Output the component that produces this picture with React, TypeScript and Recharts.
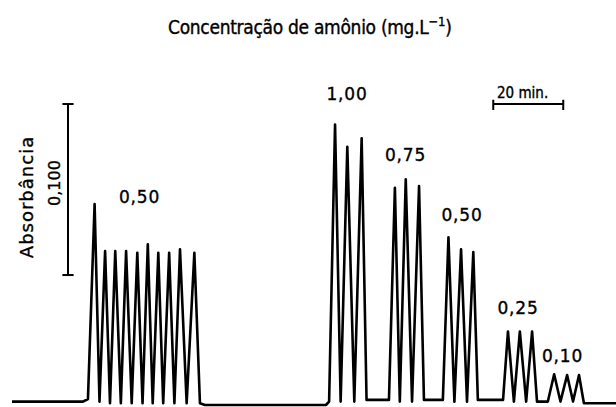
import { LineChart, Line, XAxis, YAxis, ReferenceLine } from 'recharts';

const linhaBaseInicial = [[0, 0.002], [20.3, 0.002], [21.7, 0.0035]];
const picos050a = [
  [23.6, 0.1175], [25.0, 0.002], [26.6, 0.090], [28.0, 0.001], [29.5, 0.090], [31.1, 0.001],
  [32.6, 0.090], [34.2, 0.001], [35.8, 0.089], [37.3, 0.001], [38.8, 0.094], [40.2, 0.001],
  [41.8, 0.089], [43.2, 0.001], [44.9, 0.089], [46.4, 0.001], [48.0, 0.091], [49.9, 0.001],
  [52.1, 0.089], [53.7, 0.001],
];
const linhaBaseMeio = [[55.1, 0], [89.7, 0], [90.6, 0.002]];
const picos100 = [[92.3, 0.164], [93.9, 0.002], [95.8, 0.151], [97.8, 0.002], [99.9, 0.156], [101.3, 0.003], [107.7, 0.003]];
const picos075 = [[109.4, 0.127], [110.8, 0.002], [112.5, 0.132], [114.3, 0.002], [116.3, 0.128], [117.7, 0.003], [123.1, 0.003]];
const picos050b = [[124.7, 0.098], [126.4, 0.002], [128.3, 0.091], [130.0, 0.002], [131.8, 0.0895], [133.1, 0.003], [140.3, 0.003]];
const picos025 = [[141.7, 0.043], [143.4, 0.002], [145.1, 0.043], [146.9, 0.002], [148.6, 0.043], [150.0, 0.002], [153.1, 0.002]];
const picos010 = [[154.9, 0.018], [156.7, 0.002], [158.6, 0.0175], [160.3, 0.002], [162.0, 0.0175], [163.4, 0.001], [172.6, 0.001]];

const rotulos = ['0,50', '1,00', '0,75', '0,50', '0,25', '0,10'];

// barras de escala
const escalaAbs = 0.1;
const escalaTempo = 20;

const data = [
  ...linhaBaseInicial, ...picos050a, ...linhaBaseMeio, ...picos100,
  ...picos075, ...picos050b, ...picos025, ...picos010,
].map(([t, a]) => ({ t, a }));

const font = '"DejaVu Sans", sans-serif';
const fontCond = '"DejaVu Sans Condensed", "DejaVu Sans", sans-serif';
const labelPos = [
  [139.5, 203], [347, 100], [405.5, 161], [462, 221], [518, 314], [562.5, 362],
];

const barT = 16;
const barA0 = 0.076;
const tempoT0 = 137.5;
const tempoA = 0.176;

const ink = { fill: '#000', stroke: '#000', strokeWidth: 0.35 };

export default function App() {
  return (
    <div style={{ position: 'absolute', left: 0, top: 0, width: 616, height: 407, background: '#fff' }}>
      <LineChart width={616} height={407} data={data} margin={{ top: 0, right: 0, bottom: 0, left: 12 }}>
        <XAxis dataKey="t" type="number" domain={[0, 172.571]} hide allowDataOverflow />
        <YAxis type="number" domain={[-0.00117, 0.23684]} hide allowDataOverflow />
        <Line
          type="linear"
          dataKey="a"
          stroke="#000"
          strokeWidth={2.6}
          strokeLinejoin="round"
          dot={false}
          isAnimationActive={false}
        />
        {/* escala de absorbância */}
        <ReferenceLine segment={[{ x: barT, y: barA0 }, { x: barT, y: barA0 + escalaAbs }]} stroke="#000" strokeWidth={2} />
        <ReferenceLine segment={[{ x: barT - 1.6, y: barA0 }, { x: barT + 1.6, y: barA0 }]} stroke="#000" strokeWidth={2} />
        <ReferenceLine segment={[{ x: barT - 1.6, y: barA0 + escalaAbs }, { x: barT + 1.6, y: barA0 + escalaAbs }]} stroke="#000" strokeWidth={2} />
        {/* escala de tempo */}
        <ReferenceLine segment={[{ x: tempoT0, y: tempoA }, { x: tempoT0 + escalaTempo, y: tempoA }]} stroke="#000" strokeWidth={2} />
        <ReferenceLine segment={[{ x: tempoT0, y: 0.1725 }, { x: tempoT0, y: 0.1785 }]} stroke="#000" strokeWidth={2} />
        <ReferenceLine segment={[{ x: tempoT0 + escalaTempo, y: 0.1725 }, { x: tempoT0 + escalaTempo, y: 0.1785 }]} stroke="#000" strokeWidth={2} />

        <text x={168} y={34} fontFamily={fontCond} fontSize={19} letterSpacing={-0.3} {...ink}>
          Concentração de amônio (mg.L<tspan dy={-8} fontSize={13}>−1</tspan><tspan dy={8}>)</tspan>
        </text>
        <text x={497} y={98} fontFamily={fontCond} fontSize={15} {...ink}>20 min.</text>
        <text
          transform="translate(33 197) rotate(-90)"
          textAnchor="middle"
          fontFamily={font}
          fontSize={18}
          letterSpacing={1}
          {...ink}
        >
          Absorbância
        </text>
        <text transform="translate(60 183) rotate(-90)" textAnchor="middle" fontFamily={font} fontSize={16} {...ink}>
          0,100
        </text>
        {rotulos.map((r, i) => (
          <text key={i} x={labelPos[i][0]} y={labelPos[i][1]} textAnchor="middle" fontFamily={font} fontSize={17} letterSpacing={0.8} {...ink}>
            {r}
          </text>
        ))}
      </LineChart>
    </div>
  );
}
